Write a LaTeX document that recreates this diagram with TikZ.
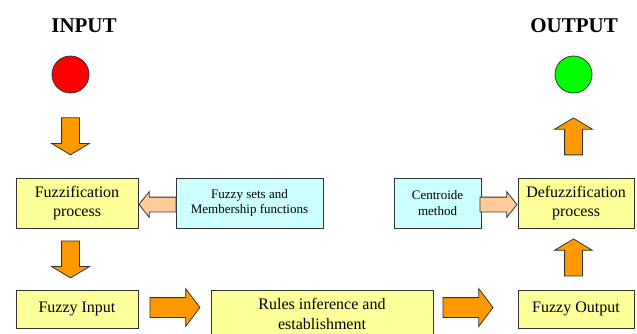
\documentclass[tikz,border=0pt]{standalone}
\usepackage{fontspec}
\setmainfont{Liberation Serif}
\usetikzlibrary{positioning,shapes,arrows,calc}
\definecolor{boxyellow}{RGB}{255,255,153}
\definecolor{boxcyan}{RGB}{204,255,255}
\definecolor{arroworange}{RGB}{255,153,0}
\definecolor{arrowpeach}{RGB}{255,204,153}
\definecolor{lampred}{RGB}{255,0,0}
\definecolor{lampgreen}{RGB}{0,255,0}

\tikzset{
  stagebox/.style={rectangle, draw=black!80, line width=1pt, fill=boxyellow, align=center,
    inner sep=0pt, font=\fontsize{16}{19.5}\selectfont},
  infobox/.style={rectangle, draw=black!80, line width=1pt, fill=boxcyan, align=center,
    inner sep=0pt, minimum height=50pt, font=\fontsize{13}{15.5}\selectfont},
  lamp/.style={circle, draw=black!80, line width=0.8pt, minimum size=37pt, inner sep=0pt},
  flowarrow/.style={single arrow, draw=black!80, line width=0.8pt, fill=arroworange,
    inner sep=8.5pt, single arrow head extend=10pt,
    single arrow tip angle=118, minimum height=37pt},
  bigarrow/.style={flowarrow, inner xsep=0pt, inner ysep=9.5pt, single arrow head extend=9pt,
    single arrow tip angle=106, minimum height=50pt},
  sidearrow/.style={flowarrow, fill=arrowpeach, inner xsep=0pt, inner ysep=7pt,
    single arrow head extend=5.5pt, single arrow tip angle=103, minimum height=37pt},
}

\begin{document}
\begin{tikzpicture}[x=1pt, y=-1pt]
    \useasboundingbox (0,0) rectangle (637,333);
    \clip (0,0) rectangle (637,333);

    % Input and output lamps
    \node[font=\bfseries\fontsize{21}{25}\selectfont] (inlabel) at (84,26) {INPUT};
    \node[lamp, fill=lampred] (inp) at (70.5,74.5) {};
    \node[font=\bfseries\fontsize{21}{25}\selectfont] (outlabel) at (574,26) {OUTPUT};
    \node[lamp, fill=lampgreen] (outp) at (573.5,74.5) {};

    % Upper row
    \node[stagebox, minimum width=122pt, minimum height=50pt] (fuzz) at (77,203) {Fuzzification\\process};
    \node[infobox, minimum width=147pt, right=37pt of fuzz] (sets) {Fuzzy sets and\\Membership functions};
    \node[stagebox, minimum width=116pt, minimum height=50pt] (defuzz) at (576,203) {Defuzzification\\process};
    \node[infobox, minimum width=87pt, left=36pt of defuzz] (centroid) {Centroide\\method};

    % Lower row
    \node[stagebox, minimum width=122pt, minimum height=38pt, below=61pt of fuzz] (fin) {Fuzzy Input};
    \node[stagebox, minimum width=222pt, minimum height=48pt] (rules) at (322,314) {Rules inference and\\establishment};
    \node[stagebox, minimum width=116pt, minimum height=38pt, below=61pt of defuzz] (fout) {Fuzzy Output};

    % Block arrows
    \node[flowarrow, shape border rotate=270, anchor=tail] (a1) at ($(inp.south)+(0,24)$) {};
    \node[flowarrow, shape border rotate=270, anchor=tail] (a2) at ($(a1.tail |- fuzz.south)+(0,12)$) {};
    \node[bigarrow, anchor=tail] (a3) at ($(fin.east)+(11,-1.5)$) {};
    \node[bigarrow, anchor=tip] (a4) at ($(fout.west)+(-24,-1.5)$) {};
    \node[flowarrow, shape border rotate=90, anchor=tip] (a5) at ($(outp.south)+(0,24)$) {};
    \node[flowarrow, shape border rotate=90, anchor=tip] (a6) at ($(a5.tip |- defuzz.south)+(0,10)$) {};
    \node[sidearrow, shape border rotate=180, anchor=tip] (p1) at ($(fuzz.east)+(0,1.5)$) {};
    \node[sidearrow, anchor=tip] (p2) at ($(defuzz.west)+(0,1.5)$) {};
\end{tikzpicture}
\end{document}
